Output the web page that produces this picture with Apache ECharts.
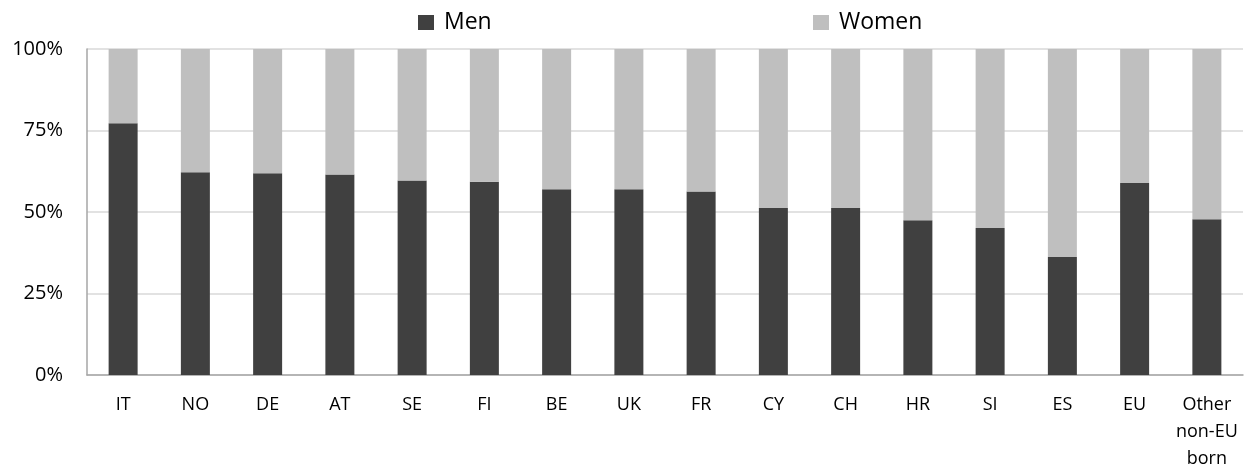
<!DOCTYPE html>
<html>
<head>
<meta charset="utf-8">
<script src="https://cdn.jsdelivr.net/npm/echarts@6/dist/echarts.min.js"></script>
<style>
  html, body { margin: 0; padding: 0; background: #fff; }
  #chart { width: 1250px; height: 473px; }
</style>
</head>
<body>
<div id="chart"></div>
<script>
// categories (countries of residence)
const countries = ['IT', 'NO', 'DE', 'AT', 'SE', 'FI', 'BE', 'UK', 'FR', 'CY', 'CH', 'HR', 'SI', 'ES', 'EU', 'Other\nnon-EU\nborn'];
// share of men / women, %
const men   = [77.2, 62.2, 61.9, 61.5, 59.7, 59.3, 57.0, 57.0, 56.3, 51.2, 51.2, 47.5, 45.1, 36.2, 58.9, 47.8];
const women = [22.8, 37.8, 38.1, 38.5, 40.3, 40.7, 43.0, 43.0, 43.7, 48.8, 48.8, 52.5, 54.9, 63.8, 41.1, 52.2];
const yTicks = [0, 25, 50, 75, 100];

const chart = echarts.init(document.getElementById('chart'));
const fontFam = '"Open Sans", sans-serif';

const legendBase = {
  top: 6,
  icon: 'rect',
  itemWidth: 16,
  itemHeight: 15,
  textStyle: { fontFamily: fontFam, fontSize: 23, color: '#000', padding: [0, 0, 0, 5] }
};

const option = {
  animation: false,
  backgroundColor: '#fff',
  grid: { left: 87, right: 7, top: 49, bottom: 98 },
  legend: [
    Object.assign({}, legendBase, { left: 413, data: ['Men'] }),
    Object.assign({}, legendBase, { left: 808, data: ['Women'] })
  ],
  xAxis: {
    type: 'category',
    data: countries,
    axisLine: { lineStyle: { color: '#a6a6a6', width: 1.5 } },
    axisTick: { show: false },
    axisLabel: {
      fontFamily: fontFam, fontSize: 18, color: '#000',
      margin: 16, lineHeight: 27, interval: 0
    }
  },
  yAxis: {
    type: 'value',
    min: yTicks[0],
    max: yTicks[yTicks.length - 1],
    interval: 25,
    axisLine: { show: true, lineStyle: { color: '#a6a6a6', width: 1.5 } },
    axisTick: { show: false },
    splitLine: { lineStyle: { color: '#d9d9d9', width: 1.5 } },
    axisLabel: {
      fontFamily: fontFam, fontSize: 20, color: '#000', margin: 24,
      formatter: '{value}%'
    }
  },
  series: [
    {
      name: 'Men',
      type: 'bar',
      stack: 'total',
      data: men,
      barWidth: 29,
      itemStyle: { color: '#404040' }
    },
    {
      name: 'Women',
      type: 'bar',
      stack: 'total',
      data: women,
      barWidth: 29,
      itemStyle: { color: '#bfbfbf' }
    }
  ]
};

chart.setOption(option);
</script>
</body>
</html>
